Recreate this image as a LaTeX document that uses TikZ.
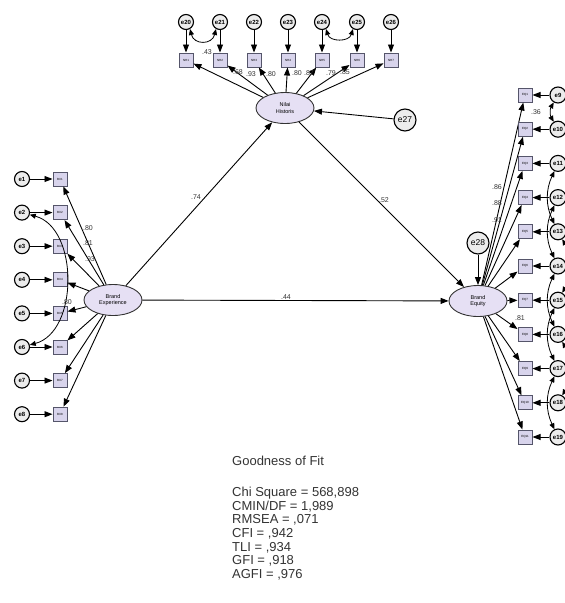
\documentclass[tikz,border=0pt]{standalone}
\usepackage{fontspec}
\setmainfont{Liberation Sans}
\usetikzlibrary{arrows.meta,shapes.geometric}

\definecolor{lav}{HTML}{E6E0F4}
\definecolor{boxlav}{HTML}{D8D4EC}
\definecolor{boxline}{HTML}{55556A}

\tikzset{
  err/.style={circle, draw=black, fill=gray!15, line width=1.1pt, minimum size=15pt, inner sep=0pt, font=\bfseries\fontsize{6}{6}\selectfont},
  bigerr/.style={err, minimum size=22pt, font=\fontsize{8.5}{8.5}\selectfont},
  ind/.style={rectangle, draw=boxline, fill=boxlav, line width=1pt, minimum width=14pt, minimum height=14pt, inner sep=0pt, font=\fontsize{3}{3}\selectfont},
  lat/.style={ellipse, draw=black!80, fill=lav, line width=0.9pt, minimum width=58pt, minimum height=31pt, inner sep=0pt, align=center, font=\fontsize{5.5}{6.5}\selectfont},
  reg/.style={-{Triangle[length=8pt,width=6pt]}, line width=0.9pt},
  cov/.style={{Triangle[length=6pt,width=5pt]}-{Triangle[length=6pt,width=5pt]}, line width=0.8pt},
  coef/.style={font=\fontsize{7}{7}\selectfont, text=black!80, inner sep=0pt},
}

\begin{document}
\begin{tikzpicture}[x=1pt,y=-1pt]
\useasboundingbox (0,0) rectangle (565,603);
\clip (0,0) rectangle (565,603);

% latent variables
\node[lat] (nh) at (285,108) {Nilai\\Historis};
\node[lat] (bx) at (113,300) {Brand\\Experience};
\node[lat] (eq) at (478,301) {Brand\\Equity};
\node[bigerr] (e27) at (405,120) {e27};
\node[bigerr] (e28) at (478,243) {e28};

% Nilai Historis indicators
\foreach \x [count=\i] in {186,220,254,288,322,357,391}{
  \pgfmathtruncatemacro{\e}{\i+19}
  \node[ind] (nh\i) at (\x,60) {NH\i};
  \node[err] (e\e) at (\x,22) {e\e};
  \draw[reg] (e\e) -- (nh\i);
  \draw[reg] (nh) -- (nh\i);
}

% Brand Experience indicators
\foreach \i in {1,...,8}{
  \pgfmathsetmacro{\y}{179+33.6*(\i-1)}
  \node[ind] (bx\i) at (60,\y) {BX\i};
  \node[err] (e\i) at (22,\y) {e\i};
  \draw[reg] (e\i) -- (bx\i);
  \draw[reg] (bx) -- (bx\i);
}

% Brand Equity indicators
\foreach \i in {1,...,11}{
  \pgfmathsetmacro{\y}{95+34.2*(\i-1)}
  \pgfmathtruncatemacro{\e}{\i+8}
  \node[ind] (eq\i) at (525,\y) {EQ\i};
  \node[err, minimum size=16pt] (e\e) at (558,\y) {e\e};
  \draw[reg] (e\e) -- (eq\i);
  \draw[reg] (eq) -- (eq\i);
}

% structural paths
\draw[reg] (bx) -- (nh);
\draw[reg] (nh) -- (eq);
\draw[reg] (bx) -- (eq);
\draw[reg] (e27) -- (nh);
\draw[reg] (e28) -- (eq);

% covariances (top pair ends just under the circles)
\path (e20) ++(4,7) coordinate (p20) (e21) ++(-4,7) coordinate (p21);
\path (e24) ++(4,7) coordinate (p24) (e25) ++(-4,7) coordinate (p25);
\draw[cov] (p20) .. controls +(4,16) and +(-4,16) .. (p21);
\draw[cov] (p24) .. controls +(4,13) and +(-4,13) .. (p25);
\draw[cov] (e2) to[bend left=75] (e6);
\draw[cov] (e9) to[bend right=30] (e10);
\draw[cov] (e11) to[bend right=25] (e13);
\draw[cov] (e12) to[bend right=25] (e14);
\draw[cov] (e13) to[bend left=30] (e15);
\draw[cov] (e14) to[bend right=25] (e16);
\draw[cov] (e15) to[bend right=25] (e17);
\draw[cov] (e16) to[bend left=30] (e18);
\draw[cov] (e17) to[bend right=25] (e19);

% estimates
\node[coef] (c74) at (196,197) {.74};
\node[coef] (c52) at (384,200) {.52};
\node[coef] (c44) at (286,297) {.44};
\node[coef] (c43) at (207,52) {.43};
\node[coef] (n1) at (238,72) {.68};
\node[coef] (n2) at (251,74) {.93};
\node[coef] (n3) at (271,74) {.80};
\node[coef] (n4) at (297,73) {.80};
\node[coef] (n5) at (309,73) {.87};
\node[coef] (n6) at (331,73) {.79};
\node[coef] (n7) at (345,72) {.85};
\node[coef] (b1) at (88,228) {.80};
\node[coef] (b2) at (88,243) {.81};
\node[coef] (b3) at (90,259) {.93};
\node[coef] (b4) at (67,302) {.80};
\node[coef] (q1) at (497,187) {.86};
\node[coef] (q2) at (497,203) {.88};
\node[coef] (q3) at (497,220) {.91};
\node[coef] (q4) at (520,318) {.81};
\node[coef] (q5) at (536,112) {.36};

% fit indices
\node[anchor=north west, align=left, inner sep=0pt, text=black!80,
  font=\fontsize{13}{13.7}\selectfont] (gof) at (232,456)
  {Goodness of Fit\\[17pt]
   Chi Square = 568,898\\
   CMIN/DF = 1,989\\
   RMSEA = ,071\\
   CFI = ,942\\
   TLI = ,934\\
   GFI = ,918\\
   AGFI = ,976};
\end{tikzpicture}
\end{document}
